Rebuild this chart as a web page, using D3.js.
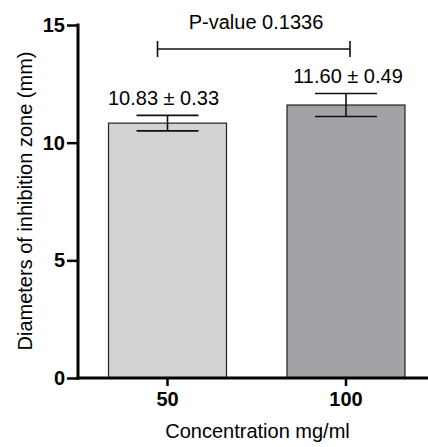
<!DOCTYPE html>
<html>
<head>
<meta charset="utf-8">
<script src="https://cdn.jsdelivr.net/npm/d3@7"></script>
<style>
  body { margin: 0; background: #fff; }
  text { font-family: Arial, "Liberation Sans", sans-serif; fill: #000; }
</style>
</head>
<body>
<svg id="chart" width="428" height="447"></svg>
<script>
// data
const categories = ["50", "100"];
const means = [10.83, 11.60];
const sds = [0.33, 0.49];
const barColors = ["#d3d3d3", "#a3a2a7"];
const yTicks = [0, 5, 10, 15];
const pValueLabel = "P-value 0.1336";

const svg = d3.select("#chart");
const plotLeft = 78, plotBottom = 378, plotTop = 25;
const fontFam = "Arial, 'Liberation Sans', sans-serif";

const x = d3.scaleBand()
  .domain(categories)
  .range([plotLeft, 435.5])
  .paddingInner(0.339)
  .paddingOuter(0.171);

const y = d3.scaleLinear().domain([0, 15]).range([plotBottom, plotTop]);

// bars
svg.selectAll("rect.bar")
  .data(categories)
  .join("rect")
  .attr("class", "bar")
  .attr("x", d => x(d))
  .attr("y", (d, i) => y(means[i]))
  .attr("width", x.bandwidth())
  .attr("height", (d, i) => y(0) - y(means[i]))
  .attr("fill", (d, i) => barColors[i])
  .attr("stroke", "#222")
  .attr("stroke-width", 1.2);

// error bars + mean ± sd labels
const capW = 31;
const labelShift = [-4, 2];
const eb = svg.append("g").attr("stroke", "#111").attr("stroke-width", 1.6);
categories.forEach((c, i) => {
  const cx = x(c) + x.bandwidth() / 2;
  const hi = y(means[i] + sds[i]), lo = y(means[i] - sds[i]);
  eb.append("line").attr("x1", cx).attr("x2", cx).attr("y1", hi).attr("y2", lo);
  eb.append("line").attr("x1", cx - capW).attr("x2", cx + capW).attr("y1", hi).attr("y2", hi);
  eb.append("line").attr("x1", cx - capW).attr("x2", cx + capW).attr("y1", lo).attr("y2", lo);
  svg.append("text")
    .attr("x", cx + labelShift[i])
    .attr("y", hi - 10.5)
    .attr("text-anchor", "middle")
    .attr("font-size", 20)
    .text(means[i].toFixed(2) + " ± " + sds[i].toFixed(2));
});

// y axis
const yAxis = svg.append("g")
  .attr("transform", `translate(${plotLeft},0)`)
  .call(d3.axisLeft(y).tickValues(yTicks).tickSize(11).tickPadding(2).tickFormat(d3.format("d")));
yAxis.select(".domain").attr("stroke-width", 3).attr("d", `M0,${plotTop - 1.5}V${plotBottom + 1.5}`);
yAxis.selectAll(".tick line").attr("stroke-width", 2.5);
yAxis.selectAll(".tick text")
  .attr("font-size", 20).attr("font-weight", "bold").attr("font-family", fontFam);

// x axis
const xAxis = svg.append("g")
  .attr("transform", `translate(0,${plotBottom})`)
  .call(d3.axisBottom(x).tickSize(8).tickPadding(6));
xAxis.select(".domain").attr("stroke-width", 3).attr("d", `M${plotLeft - 1.5},0H428`);
xAxis.selectAll(".tick line").attr("stroke-width", 2.5);
xAxis.selectAll(".tick text")
  .attr("font-size", 20).attr("font-weight", "bold").attr("font-family", fontFam);

// axis titles
svg.append("text")
  .attr("x", 257.5)
  .attr("y", 437.5)
  .attr("text-anchor", "middle")
  .attr("font-size", 20)
  .text("Concentration mg/ml");

svg.append("text")
  .attr("transform", "translate(32,201) rotate(-90)")
  .attr("text-anchor", "middle")
  .attr("font-size", 20)
  .text("Diameters of inhibition zone (mm)");

// significance bracket
const bx1 = x(categories[0]) + x.bandwidth() / 2 - 10;
const bx2 = x(categories[1]) + x.bandwidth() / 2 + 4;
const by = 49;
const br = svg.append("g").attr("stroke", "#111").attr("stroke-width", 1.6).attr("fill", "none");
br.append("path").attr("d", `M${bx1},${by - 8}V${by + 8}M${bx1},${by}H${bx2}M${bx2},${by - 8}V${by + 8}`);
svg.append("text")
  .attr("x", 256)
  .attr("y", 29)
  .attr("text-anchor", "middle")
  .attr("font-size", 20)
  .text(pValueLabel);
</script>
</body>
</html>
